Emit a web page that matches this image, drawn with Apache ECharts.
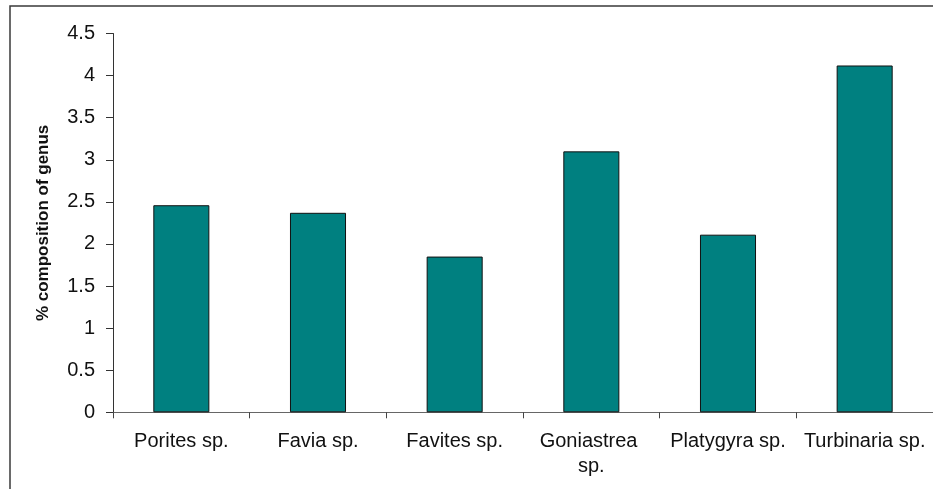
<!DOCTYPE html>
<html>
<head>
<meta charset="utf-8">
<script src="https://cdn.jsdelivr.net/npm/echarts@6/dist/echarts.min.js"></script>
<style>
  html, body { margin: 0; padding: 0; background: #fff; }
  #chart { width: 933px; height: 489px; }
</style>
</head>
<body>
<div id="chart"></div>
<script>
// Coral genus composition (%)
const genera = ['Porites sp.', 'Favia sp.', 'Favites sp.', 'Goniastrea sp.', 'Platygyra sp.', 'Turbinaria sp.'];
const composition = [2.46, 2.37, 1.85, 3.10, 2.11, 4.12];
const yTicks = { min: 0, max: 4.5, step: 0.5 };
const yTitle = '% composition of genus';

const chart = echarts.init(document.getElementById('chart'), null, { renderer: 'canvas' });

chart.setOption({
  animation: false,
  backgroundColor: '#ffffff',
  graphic: [{
    type: 'rect',
    shape: { x: 10, y: 6, width: 1000, height: 600 },
    style: { fill: 'none', stroke: '#3a3a3a', lineWidth: 1.5 },
    silent: true
  }],
  grid: { left: 113, top: 33.5, right: 0, bottom: 76.7, containLabel: false },
  xAxis: {
    type: 'category',
    data: genera,
    boundaryGap: true,
    axisLine: { lineStyle: { color: '#666666', width: 1 } },
    axisTick: { show: true, alignWithLabel: false, length: 6, inside: false, lineStyle: { color: '#444444' } },
    axisLabel: {
      interval: 0,
      margin: 17,
      color: '#111111',
      fontFamily: 'Liberation Sans, Arial, sans-serif',
      fontSize: 20,
      lineHeight: 25,
      width: 126,
      overflow: 'break'
    },
    splitLine: { show: false }
  },
  yAxis: {
    type: 'value',
    min: yTicks.min,
    max: yTicks.max,
    interval: yTicks.step,
    name: yTitle,
    nameLocation: 'middle',
    nameGap: 61,
    nameTextStyle: {
      fontFamily: 'Liberation Sans, Arial, sans-serif',
      fontSize: 17,
      fontWeight: 'bold',
      color: '#111111'
    },
    axisLine: { show: true, lineStyle: { color: '#333333', width: 1 } },
    axisTick: { show: true, length: 7, lineStyle: { color: '#333333' } },
    axisLabel: {
      margin: 18,
      color: '#111111',
      fontFamily: 'Liberation Sans, Arial, sans-serif',
      fontSize: 20
    },
    splitLine: { show: false }
  },
  series: [{
    type: 'bar',
    data: composition,
    barWidth: '41%',
    itemStyle: { color: '#008080', borderColor: '#111111', borderWidth: 1 }
  }]
});
</script>
</body>
</html>
